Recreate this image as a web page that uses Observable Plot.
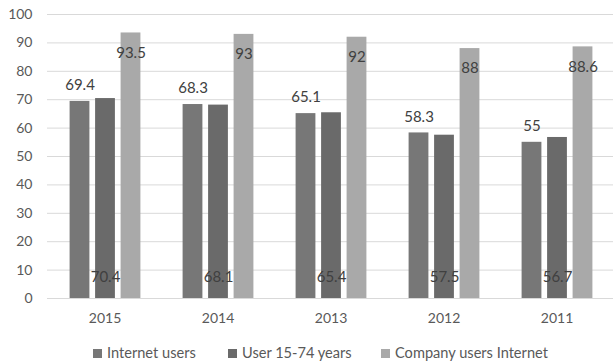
<!DOCTYPE html>
<html>
<head>
<meta charset="utf-8">
<script src="https://cdn.jsdelivr.net/npm/d3@7"></script>
<script src="https://cdn.jsdelivr.net/npm/@observablehq/plot@0.6"></script>
<style>
  body { margin: 0; background: #fff; font-family: Lato, "Open Sans", sans-serif; }
  #legend { position: relative; height: 26px; font-size: 14.6px; color: #595959; }
  #legend .item { position: absolute; top: 9px; display: flex; align-items: center; gap: 5px; line-height: 18px; }
  #legend .sw { width: 9px; height: 9px; display: inline-block; }
</style>
</head>
<body>
<div id="chart"></div>
<div id="legend"></div>
<script>
// Years, left to right
const years = ["2015", "2014", "2013", "2012", "2011"];
// Series names
const series = ["Internet users", "User 15-74 years", "Company users Internet"];
// Series values, one per year
const internetUsers = [69.4, 68.3, 65.1, 58.3, 55];
const users1574 = [70.4, 68.1, 65.4, 57.5, 56.7];
const companyUsers = [93.5, 93, 92, 88, 88.6];
// Value axis ticks
const yTicks = [0, 10, 20, 30, 40, 50, 60, 70, 80, 90, 100];
const colors = ["#777777", "#6a6a6a", "#a9a9a9"];

const seriesValues = [internetUsers, users1574, companyUsers];
const rowsOf = (values) => years.map((year, i) => ({year, value: values[i]}));

const width = 614, marginLeft = 47, marginRight = 1;
const band = (width - marginLeft - marginRight) / years.length;
const barWidth = 20, barStep = 25.5, shift = 0.5;

// Insets that place the j-th bar of a group inside its year band
function insets(j) {
  const left = band / 2 - barWidth / 2 + shift + (j - 1) * barStep;
  return {insetLeft: left, insetRight: band - left - barWidth};
}
const offset = (j) => (j - 1) * barStep + shift;

const labelStyle = {fill: "#404040", fontSize: 15, text: (d) => String(d.value)};

const chart = Plot.plot({
  width,
  height: 335,
  marginLeft,
  marginRight,
  marginTop: 14,
  marginBottom: 37,
  style: {fontFamily: "Lato, sans-serif", fontSize: "14px", color: "#595959", background: "#fff"},
  x: {domain: years, padding: 0, label: null, tickSize: 0, tickPadding: 15},
  y: {domain: [0, 100], ticks: yTicks, tickSize: 0, tickPadding: 15, label: null},
  marks: [
    Plot.gridY(yTicks, {stroke: "#d9d9d9", strokeOpacity: 1}),
    ...seriesValues.map((values, j) =>
      Plot.barY(rowsOf(values), {x: "year", y: "value", fill: colors[j], ...insets(j)})
    ),
    // Internet users: value above the bar
    Plot.text(rowsOf(internetUsers), {x: "year", y: "value", dx: offset(0), dy: -16, ...labelStyle}),
    // Users 15-74: value at the foot of the bar
    Plot.text(rowsOf(users1574), {x: "year", frameAnchor: "bottom", dx: offset(1), dy: -17, ...labelStyle}),
    // Company users: value just inside the top of the bar
    Plot.text(rowsOf(companyUsers), {x: "year", y: "value", dx: offset(2), dy: 20, ...labelStyle})
  ]
});
document.getElementById("chart").append(chart);

// Legend row under the chart
const legendLeft = [93, 228, 381];
const legend = document.getElementById("legend");
series.forEach((s, i) => {
  const item = document.createElement("span");
  item.className = "item";
  item.style.left = legendLeft[i] + "px";
  const sw = document.createElement("span");
  sw.className = "sw";
  sw.style.background = colors[i];
  const label = document.createElement("span");
  label.textContent = s;
  item.append(sw, label);
  legend.append(item);
});
</script>
</body>
</html>
